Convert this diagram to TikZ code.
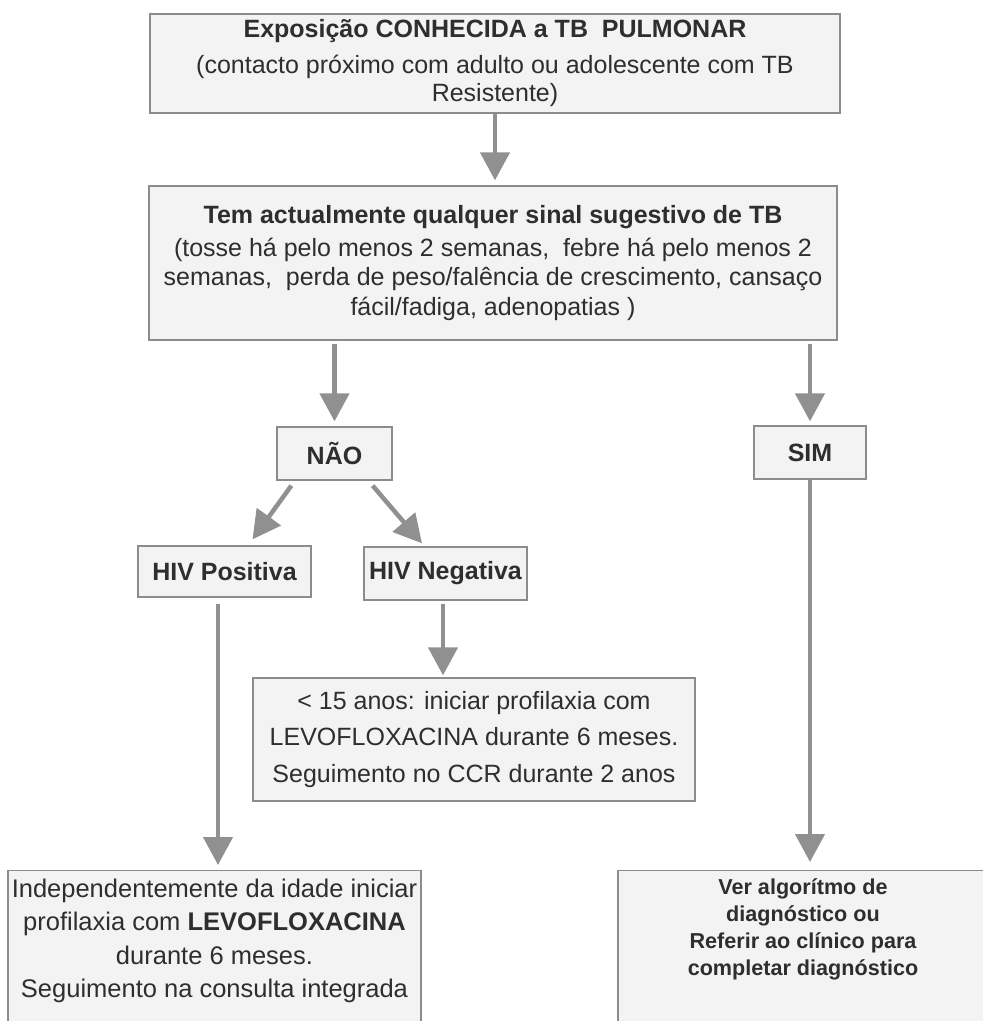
\documentclass[tikz,border=0pt]{standalone}
\usepackage{fontspec}
\setmainfont{Liberation Sans}
\usepackage{tikz}
\usetikzlibrary{arrows.meta,positioning,calc}
\definecolor{BoxLine}{HTML}{8C8C8C}
\definecolor{BoxFill}{HTML}{F3F3F3}
\definecolor{ArrGray}{HTML}{909090}
\definecolor{InkGray}{HTML}{2E2E2E}
\tikzset{
  tbbox/.style={draw=BoxLine, fill=BoxFill, line width=1.3pt, align=center, text=InkGray,
                font=\fontsize{25}{28.5}\selectfont, inner sep=0pt},
  tbtag/.style={tbbox, font=\fontsize{25}{28.5}\selectfont\bfseries},
  tbarr/.style={-{Triangle[length=28pt,width=29pt]}, line width=4.5pt, ArrGray}
}

\begin{document}
\begin{tikzpicture}[x=1pt, y=-1pt]
\useasboundingbox (0,0) rectangle (983,1021);
\clip (0,0) rectangle (983,1021);

\node[tbbox, minimum width=690pt, minimum height=99pt] (expo) at (495,63.5)
  {\textbf{Exposição CONHECIDA a TB~ PULMONAR}\\[7pt]
   (contacto próximo com adulto ou adolescente com TB\\
   Resistente)};
\node[tbbox, minimum width=688pt, minimum height=154pt, font=\fontsize{25}{29.5}\selectfont] (sinal) at (493,263)
  {\textbf{Tem actualmente qualquer sinal sugestivo de TB}\\[3pt]
   (tosse há pelo menos 2 semanas,\ \ febre há pelo menos 2\\
   semanas,\ \ perda de peso/falência de crescimento, cansaço\\
   fácil/fadiga, adenopatias )};
\node[tbtag, minimum width=115pt, minimum height=53pt] (nao) at (334.5,453.5) {NÃO};
\node[tbtag, minimum width=112pt, minimum height=53pt] (sim) at (810,452.5) {SIM};
\node[tbtag, minimum width=173pt, minimum height=51pt] (hivpos) at (224.5,571.5) {HIV Positiva};
\node[tbtag, minimum width=163pt, minimum height=53pt] (hivneg) at (445.5,573.5) {HIV Negativa};
\node[tbbox, minimum width=442pt, minimum height=123pt, font=\fontsize{25}{36.5}\selectfont] (levo) at (474,739.5)
  {< 15 anos: iniciar profilaxia com\\
   LEVOFLOXACINA durante 6 meses.\\
   Seguimento no CCR durante 2 anos};
\node[tbbox, anchor=north, inner ysep=8pt, font=\fontsize{25.5}{33.5}\selectfont] (posres) at (214.5,870)
  {\parbox[c][165pt][t]{413pt}{\centering
   Independentemente da idade iniciar\\
   profilaxia com \textbf{LEVOFLOXACINA}\\
   durante 6 meses.\\
   Seguimento na consulta integrada}};
\node[tbbox, anchor=north, inner ysep=8pt, font=\fontsize{21.6}{27}\selectfont\bfseries] (simres) at (803,870)
  {\parbox[c][165pt][t]{370pt}{\centering
   Ver algorítmo de\\
   diagnóstico ou\\
   Referir ao clínico para\\
   completar diagnóstico}};

\draw[tbarr, shorten >=5pt] (expo.south) -- (expo.south |- sinal.north);
\draw[tbarr, shorten <=3pt, shorten >=5pt] (nao.north |- sinal.south) -- (nao.north);
\draw[tbarr, shorten <=3pt, shorten >=4pt] (sim.north |- sinal.south) -- (sim.north);
\draw[tbarr] ($(nao.south west)+(15,5)$) -- ($(hivpos.north)+(28,-6)$);
\draw[tbarr] ($(nao.south east)+(-20,5)$) -- ($(hivneg.north)+(-23.5,-3)$);
\draw[tbarr, shorten <=6pt, shorten >=5pt] ([xshift=-6.5pt]hivpos.south) -- ([xshift=-6.5pt]hivpos.south |- posres.north);
\draw[tbarr, shorten <=3pt, shorten >=2pt] ([xshift=-2.5pt]hivneg.south) -- ([xshift=-2.5pt]hivneg.south |- levo.north);
\draw[tbarr, shorten >=8pt] (sim.south) -- (sim.south |- simres.north);
\end{tikzpicture}
\end{document}
